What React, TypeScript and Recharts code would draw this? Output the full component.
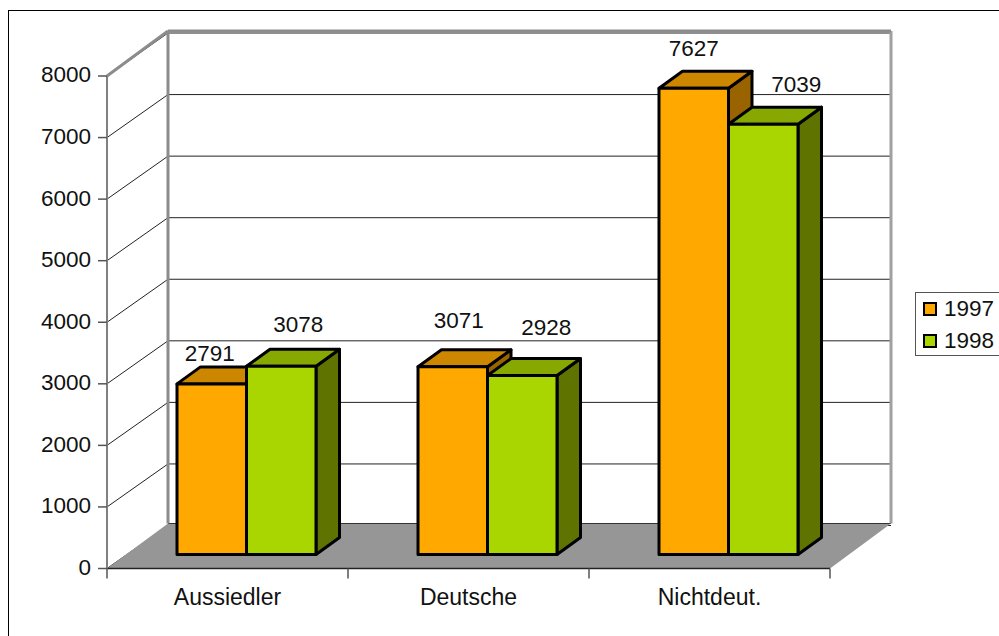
import { BarChart, Bar, XAxis, YAxis, CartesianGrid, ReferenceArea, Legend, LabelList } from "recharts"

const categories = ["Aussiedler", "Deutsche", "Nichtdeut."]
const values1997 = [2791, 3071, 7627]
const values1998 = [3078, 2928, 7039]
const yTicks = [0, 1000, 2000, 3000, 4000, 5000, 6000, 7000, 8000]

const data = categories.map((name, i) => ({ name, y1997: values1997[i], y1998: values1998[i] }))

const FONT = "'Liberation Sans', Arial, sans-serif"
const WALL_DX = 61
const WALL_DY = -45
const GRID_DY = -43
const BAR_DX = 19
const BAR_DY = -14
const DEPTH_DX = 23.5
const DEPTH_DY = -17
const BAR_SCALE = 0.993

const ORANGE = { front: "#ffa800", top: "#cc8600", side: "#996400" }
const GREEN = { front: "#a9d600", top: "#87a800", side: "#5f7400" }

// hand placed in the original, one per bar
const nudge1997 = [[-2, -31], [6, -47], [0, -40]]
const nudge1998 = [[17, -42], [24, -49], [33, -40]]

function Box3D(props: any) {
    const { x, y, width, height, colors } = props
    const h = height * BAR_SCALE
    const left = x + BAR_DX
    const right = left + width
    const bottom = y + height + BAR_DY
    const top = bottom - h
    const common = { stroke: "#000", strokeWidth: 3, strokeLinejoin: "round" as const }
    return (
        <g>
            <polygon
                points={`${right},${top} ${right + DEPTH_DX},${top + DEPTH_DY} ${right + DEPTH_DX},${bottom + DEPTH_DY} ${right},${bottom}`}
                fill={colors.side}
                {...common}
            />
            <polygon
                points={`${left},${top} ${left + DEPTH_DX},${top + DEPTH_DY} ${right + DEPTH_DX},${top + DEPTH_DY} ${right},${top}`}
                fill={colors.top}
                {...common}
            />
            <rect x={left} y={top} width={width} height={h} fill={colors.front} {...common} />
        </g>
    )
}

function Walls(props: any) {
    const { x, y, width, height } = props
    const r = x + width
    const b = y + height
    const step = width / categories.length
    const marks = categories.map((_, i) => x + step * (i + 1))
    return (
        <g>
            <polygon
                points={`${x},${b} ${x + WALL_DX},${b + WALL_DY} ${r + WALL_DX},${b + WALL_DY} ${r},${b}`}
                fill="#969696"
            />
            <line x1={x + WALL_DX} y1={b + WALL_DY} x2={r + WALL_DX} y2={b + WALL_DY} stroke="#333" strokeWidth={1} />
            <line x1={x} y1={b} x2={r} y2={b} stroke="#222" strokeWidth={1.5} />
            <line x1={x + WALL_DX} y1={y + WALL_DY} x2={x + WALL_DX} y2={b + WALL_DY} stroke="#8c8c8c" strokeWidth={3} />
            <line x1={r + WALL_DX} y1={y + WALL_DY} x2={r + WALL_DX} y2={b + WALL_DY} stroke="#a0a0a0" strokeWidth={3} />
            <line x1={x + WALL_DX} y1={y + WALL_DY} x2={r + WALL_DX} y2={y + WALL_DY} stroke="#8c8c8c" strokeWidth={3} />
            <line x1={x} y1={y} x2={x + WALL_DX} y2={y + WALL_DY} stroke="#8c8c8c" strokeWidth={3} />
            <line x1={x} y1={b} x2={x} y2={b + 10} stroke="#555" strokeWidth={1.5} />
            {marks.map((mx) => (
                <line key={mx} x1={mx} y1={b} x2={mx} y2={b + 10} stroke="#555" strokeWidth={1.5} />
            ))}
        </g>
    )
}

function GridLine(props: any) {
    const { x1, x2, y1 } = props
    return (
        <g key={props.key}>
            <line x1={x1} y1={y1} x2={x1 + WALL_DX} y2={y1 + GRID_DY} stroke="#222" strokeWidth={1} />
            <line x1={x1 + WALL_DX} y1={y1 + GRID_DY} x2={x2 + WALL_DX} y2={y1 + GRID_DY} stroke="#222" strokeWidth={1} />
        </g>
    )
}

function valueLabel(nudges: number[][]) {
    return (props: any) => {
        const { x, y, width, height, value, index } = props
        const top = y + height + BAR_DY - height * BAR_SCALE
        return (
            <text
                x={x + BAR_DX + width / 2 + nudges[index][0]}
                y={top + nudges[index][1] + 8}
                textAnchor="middle"
                fontFamily={FONT}
                fontSize={22.5}
                fill="#111"
            >
                {value}
            </text>
        )
    }
}

function LegendBox({ payload }: any) {
    return (
        <div style={{ width: 90, height: 62, border: "1px solid #555", background: "#fff", fontFamily: FONT, fontSize: 22.5, color: "#111" }}>
            {(payload ?? []).map((p: any) => (
                <div key={p.value} style={{ display: "flex", alignItems: "center", height: 32, paddingLeft: 7, marginTop: 0 }}>
                    <span style={{ width: 10, height: 10, background: p.color, border: "2px solid #000", marginRight: 7, display: "inline-block" }} />
                    {p.value}
                </div>
            ))}
        </div>
    )
}

export default function App() {
    return (
        <div style={{ position: "absolute", left: 0, top: 0, width: 999, height: 636, overflow: "hidden", background: "#fff" }}>
            <div style={{ position: "absolute", left: 8, top: 10, width: 1100, height: 800, border: "1px solid #000" }} />
            <BarChart
                width={999}
                height={636}
                data={data}
                barSize={69.5}
                barGap={0}
                margin={{ top: 76, right: 79, bottom: 0, left: 0 }}
                style={{ position: "absolute", left: 0, top: 0 }}
            >
                <CartesianGrid vertical={false} horizontal={GridLine as any} />
                <ReferenceArea y1={0} y2={8000} shape={Walls as any} fill="none" stroke="none" />
                <XAxis
                    dataKey="name"
                    height={67.5}
                    tickLine={false}
                    axisLine={false}
                    tickMargin={14}
                    tick={{ fontFamily: FONT, fontSize: 23, fill: "#111" }}
                />
                <YAxis
                    width={107}
                    domain={[0, 8000]}
                    ticks={yTicks}
                    interval={0}
                    tickSize={9}
                    tickMargin={7}
                    axisLine={{ stroke: "#808080", strokeWidth: 2 }}
                    tickLine={{ stroke: "#555", strokeWidth: 1.5 }}
                    tick={{ fontFamily: FONT, fontSize: 22.5, fill: "#111", dy: -1.5 }}
                />
                <Legend
                    layout="horizontal"
                    verticalAlign="middle"
                    align="right"
                    content={LegendBox as any}
                    wrapperStyle={{ position: "absolute", left: 915, top: 292, width: 90, height: 64 }}
                />
                <Bar dataKey="y1997" name="1997" fill={ORANGE.front} isAnimationActive={false} shape={(p: any) => <Box3D {...p} colors={ORANGE} />}>
                    <LabelList dataKey="y1997" content={valueLabel(nudge1997) as any} />
                </Bar>
                <Bar dataKey="y1998" name="1998" fill={GREEN.front} isAnimationActive={false} shape={(p: any) => <Box3D {...p} colors={GREEN} />}>
                    <LabelList dataKey="y1998" content={valueLabel(nudge1998) as any} />
                </Bar>
            </BarChart>
        </div>
    )
}
